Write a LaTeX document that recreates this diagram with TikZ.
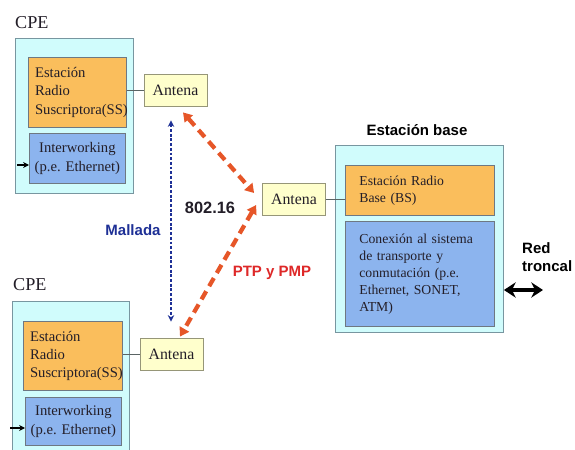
\documentclass[tikz,border=0pt]{standalone}
\usepackage{fontspec}
\setmainfont{Liberation Serif}
\setsansfont{Liberation Sans}
\usetikzlibrary{positioning, arrows.meta, calc}

\begin{document}
\begin{tikzpicture}[
    x=0.03cm, y=-0.03cm,
    % --- Styles ---
    outer_box/.style={draw=frameGray, line width=0.8pt, fill=frameCyan, inner sep=0pt, anchor=north west},
    radio_box/.style={draw=boxGray, line width=0.7pt, fill=radioOrange, anchor=north west, align=left, text=textDark},
    iw_box/.style={draw=boxGray, line width=0.7pt, fill=iwBlue, anchor=north west, text=textDark},
    ant_box/.style={draw=antGray, line width=0.7pt, fill=antYellow, minimum width=1.89cm, minimum height=0.96cm, inner sep=0pt, font=\fontsize{13.5}{15}\selectfont, text=textDark},
    cpe_text/.style={font=\fontsize{15.5}{18}\selectfont, inner sep=0pt, text=textDark},
    cpe_font/.style={font=\fontsize{12.5}{15.5}\selectfont},
    base_font/.style={font=\fontsize{11.7}{14.6}\selectfont},
    wire/.style={draw=wireGray, line width=0.8pt},
    feed_arrow/.style={-{Stealth[length=5pt,width=5pt]}, line width=0.9pt, color=black},
    red_link/.style={{Triangle[length=7.5pt,width=9pt]}-{Triangle[length=7.5pt,width=9pt]}, line width=3.6pt, color=linkRed, dash pattern=on 8pt off 5pt},
    blue_link/.style={{Stealth[length=5.5pt,width=5.5pt]}-{Stealth[length=5.5pt,width=5.5pt]}, line width=1.4pt, color=meshBlue, dash pattern=on 2.5pt off 1.5pt},
    trunk_arrow/.style={{Stealth[length=10pt,width=13pt]}-{Stealth[length=10pt,width=13pt]}, line width=3pt, color=black},
    label_sans/.style={font=\sffamily\bfseries\fontsize{12.8}{15}\selectfont, align=left, inner sep=0pt}
]

    % --- Colors ---
    \definecolor{frameCyan}{RGB}{208,252,252}   % outer box
    \definecolor{frameGray}{RGB}{120,150,160}   % outer border
    \definecolor{radioOrange}{RGB}{250,190,92}  % radio station
    \definecolor{iwBlue}{RGB}{140,180,238}      % interworking
    \definecolor{boxGray}{RGB}{110,120,130}     % inner border
    \definecolor{antYellow}{RGB}{255,255,204}   % antenna
    \definecolor{antGray}{RGB}{150,150,120}     % antenna border
    \definecolor{wireGray}{RGB}{90,100,100}     % plain connector
    \definecolor{linkRed}{RGB}{230,86,40}       % PTP / PMP link
    \definecolor{ptpRed}{RGB}{222,40,40}        % PTP label
    \definecolor{meshBlue}{RGB}{30,48,150}      % mesh link
    \definecolor{textDark}{RGB}{35,30,40}       % box text

    \clip (0,0) rectangle (575,450);
    \fill[white] (0,0) rectangle (575,450);

    % ==========================
    % 1. CPE (TOP)
    % ==========================
    \node[cpe_text, anchor=base west] (cpeTopLbl) at (15, 29) {CPE};
    \node[outer_box, minimum width=3.54cm, minimum height=4.65cm] (cpeTop) at (15, 38) {};

    \node[radio_box, cpe_font, inner xsep=0.2cm, text width=2.54cm, minimum height=2.1cm] (ssTop) at (28, 57)
        {Estación\\Radio\\Suscriptora(SS)};
    \node[iw_box, cpe_font, align=center, inner xsep=0.05cm, text width=2.78cm, minimum height=1.5cm] (iwTop) at (29, 133)
        {Interworking\\(p.e.\ Ethernet)};

    \node[ant_box] (antTop) at (175.5, 90) {Antena};
    \draw[wire] (antTop.west) -- (antTop.west -| ssTop.east);

    \coordinate (inTop) at (17, 165);
    \draw[feed_arrow] (inTop) -- (inTop -| iwTop.west);


    % ==========================
    % 2. CPE (BOTTOM)
    % ==========================
    \node[cpe_text, anchor=base west] (cpeBotLbl) at (13, 290) {CPE};
    \node[outer_box, minimum width=3.51cm, minimum height=4.8cm] (cpeBot) at (12, 301) {};

    \node[radio_box, cpe_font, inner xsep=0.2cm, text width=2.57cm, minimum height=2.07cm] (ssBot) at (23, 321)
        {Estación\\Radio\\Suscriptora(SS)};
    \node[iw_box, cpe_font, align=center, inner xsep=0.05cm, text width=2.78cm, minimum height=1.44cm] (iwBot) at (25, 397)
        {Interworking\\(p.e.\ Ethernet)};

    \node[ant_box] (antBot) at (171.5, 354) {Antena};
    \draw[wire] (antBot.west) -- (antBot.west -| ssBot.east);

    \coordinate (inBot) at (10, 428);
    \draw[feed_arrow] (inBot) -- (inBot -| iwBot.west);


    % ==========================
    % 3. ESTACION BASE
    % ==========================
    \node[label_sans, text=black] (baseLbl) at (417, 130) {Estación base};
    \node[outer_box, minimum width=5.04cm, minimum height=5.61cm] (baseOut) at (335, 145) {};

    \node[radio_box, base_font, inner xsep=0.42cm, text width=3.63cm, minimum height=1.5cm] (bsBase) at (345, 165)
        {Estación Radio\\Base (BS)};
    \node[iw_box, base_font, align=left, inner xsep=0.42cm, text width=3.63cm, minimum height=3.15cm] (cxBase) at (345, 221)
        {Conexión al sistema\\de transporte y\\conmutación (p.e.\\Ethernet, SONET,\\ATM)};

    \node[ant_box] (antMid) at (294, 199) {Antena};
    \draw[wire] (antMid.east) -- (antMid.east -| bsBase.west);

    % Red troncal
    \node[label_sans, anchor=west] (trunkLbl) at (522, 257) {Red\\troncal};
    \coordinate (trunkEnd) at (543, 290);
    \draw[trunk_arrow] (trunkEnd -| baseOut.east) -- (trunkEnd);


    % ==========================
    % 4. RADIO LINKS
    % ==========================
    \draw[blue_link] ([shift={(-4.5,14)}]antTop.south) -- ([shift={(-0.5,-16)}]antBot.north);
    \draw[red_link] ([shift={(7.5,6)}]antTop.south) -- ([shift={(-8,-6)}]antMid.west);
    \draw[red_link] ([shift={(-6,6)}]antMid.west) -- ([shift={(8.5,-1)}]antBot.north);

    \node[label_sans, text=textDark, font=\sffamily\bfseries\fontsize{14}{16}\selectfont] (stdLbl) at (210, 208) {802.16};
    \node[label_sans, text=meshBlue] (meshLbl) at (133, 230) {Mallada};
    \node[label_sans, text=ptpRed] (ptpLbl) at (272, 273) {PTP y PMP};

\end{tikzpicture}
\end{document}
